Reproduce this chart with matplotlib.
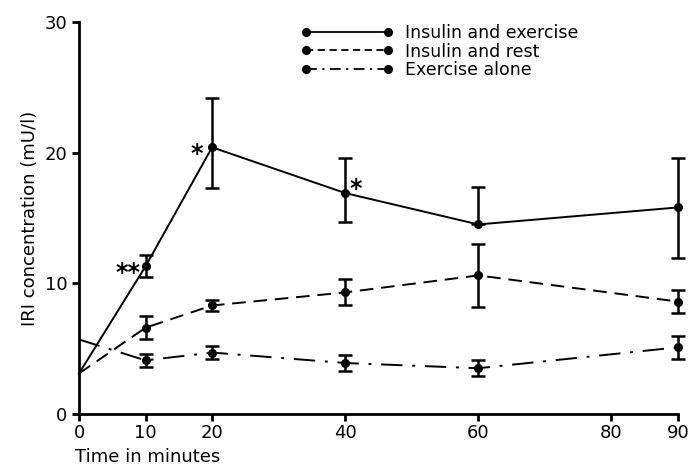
import numpy as np
import matplotlib
matplotlib.use('Agg')
import matplotlib.pyplot as plt

# time points (min); x=0 is the common starting level (no marker there)
t = [0, 10, 20, 40, 60, 90]

ins_ex = [3.1, 11.3, 20.4, 16.9, 14.5, 15.8]
ins_ex_lo = [0, 0.8, 3.1, 2.2, 0.0, 3.9]
ins_ex_hi = [0, 0.9, 3.8, 2.7, 2.9, 3.8]

ins_rest = [3.1, 6.6, 8.3, 9.3, 10.6, 8.6]
ins_rest_err = [0, 0.9, 0.4, 1.0, 2.4, 0.9]

ex_alone = [5.7, 4.1, 4.7, 3.9, 3.5, 5.1]
ex_alone_err = [0, 0.5, 0.5, 0.6, 0.6, 0.9]

xticks = [0, 10, 20, 40, 60, 80, 90]
yticks = [0, 10, 20, 30]

# significance marks: (x, y, text, alignment)
stars = [(9.3, 10.8, '**', 'right'), (18.7, 19.9, '*', 'right'), (40.7, 17.2, '*', 'left')]

plt.rcParams['font.family'] = 'DejaVu Sans'
fig = plt.figure(figsize=(6.9, 4.68), dpi=100)
ax = fig.add_axes([0.1145, 0.1154, 0.868, 0.838])

kw = dict(color='black', lw=1.4, marker='o', ms=5.5, markevery=list(range(1, 6)),
          elinewidth=1.8, capsize=5, capthick=1.8, clip_on=False)
e1 = ax.errorbar(t, ins_ex, yerr=[ins_ex_lo, ins_ex_hi], ls='-', **kw)
e2 = ax.errorbar(t, ins_rest, yerr=ins_rest_err, ls=(0, (7, 4)), **kw)
e3 = ax.errorbar(t, ex_alone, yerr=ex_alone_err, ls=(0, (11, 5, 1.5, 5)), **kw)
# hide the zero-length bars at x=0
for e in (e1, e2, e3):
    for c in e[1]:
        c.set_markevery(list(range(1, 6)))

for x, y, s, ha in stars:
    ax.text(x, y, s, ha=ha, va='center', fontsize=17, fontweight='bold')

h1 = plt.Line2D([], [], color='black', lw=1.3, marker='o', ms=5.5)
h2 = plt.Line2D([], [], color='black', lw=1.3, ls=(0, (4, 2.5)), marker='o', ms=5.5)
h3 = plt.Line2D([], [], color='black', lw=1.3, ls=(0, (6, 3, 1.2, 3)), marker='o', ms=5.5)
ax.legend([h1, h2, h3], ['Insulin and exercise', 'Insulin and rest', 'Exercise alone'],
          loc='upper left', bbox_to_anchor=(0.345, 1.035), frameon=False, numpoints=2,
          handlelength=5.3, handletextpad=0.7, labelspacing=0.05, fontsize=12.5)

ax.set_xlim(0, 90)
ax.set_ylim(0, 30)
ax.set_xticks(xticks)
ax.set_yticks(yticks)
ax.spines['top'].set_visible(False)
ax.spines['right'].set_visible(False)
ax.spines['left'].set_linewidth(2)
ax.spines['bottom'].set_linewidth(2)
ax.tick_params(direction='out', length=5, width=2, labelsize=13)
ax.tick_params(axis='x', pad=2)
ax.set_ylabel('IRI concentration (mU/l)', fontsize=13, labelpad=4)
fig.text(0.108, 0.004, 'Time in minutes', fontsize=13, ha='left', va='bottom')

plt.savefig('out.png')
